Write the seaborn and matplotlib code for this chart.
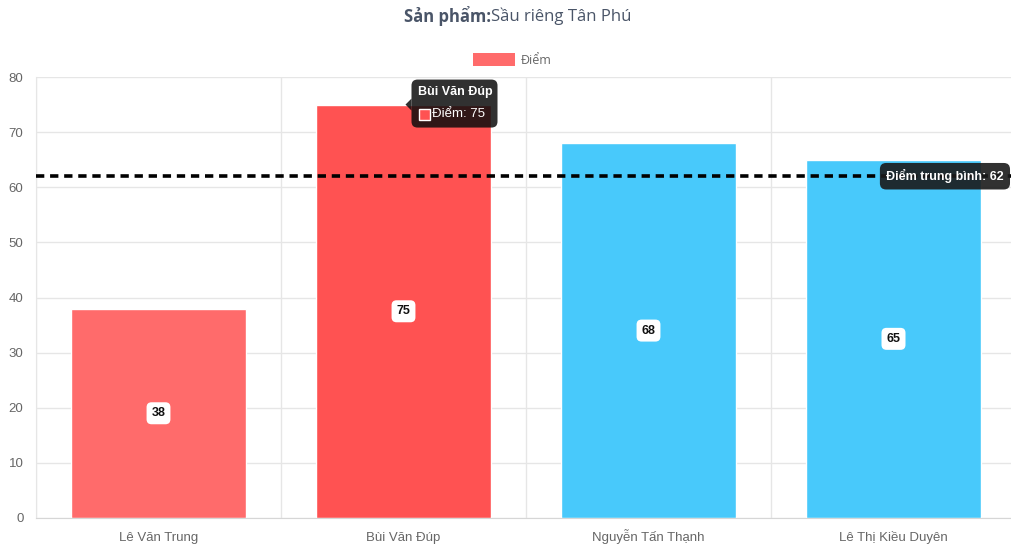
import matplotlib
matplotlib.use("Agg")
import matplotlib.pyplot as plt
from matplotlib.patches import FancyBboxPatch, Polygon, Rectangle
from matplotlib.transforms import Affine2D, offset_copy
import seaborn as sns

# --- data -------------------------------------------------------------
names = ["Lê Văn Trung", "Bùi Văn Đúp", "Nguyễn Tấn Thạnh", "Lê Thị Kiều Duyên"]
scores = [38, 75, 68, 65]
average = 62
bar_colors = ["#FF6B6B", "#FF5252", "#48C9FB", "#48C9FB"]
y_ticks = [0, 10, 20, 30, 40, 50, 60, 70, 80]
series_label = "Điểm"
title_bold = "Sản phẩm:"
title_rest = "Sầu riêng Tân Phú"
highlight = 1  # index of the bar with the tooltip

# --- styling ----------------------------------------------------------
sns.set_style("white")
plt.rcParams["font.family"] = ["Liberation Sans", "DejaVu Sans"]
TITLE_FONT = ["Open Sans", "DejaVu Sans"]

W, H = 1011, 550
fig = plt.figure(figsize=(W / 100, H / 100), dpi=100)
ax = fig.add_axes([36 / W, 32 / H, (1016 - 36) / W, (518 - 77) / H])

sns.barplot(x=names, y=scores, hue=names, palette=bar_colors, legend=False,
            width=0.715, saturation=1, ax=ax, zorder=2)

ax.set_xlim(-0.5, len(names) - 0.5)
ax.set_ylim(0, 80)
ax.set_yticks(y_ticks)
ax.set_ylabel("")
ax.set_xlabel("")

grid_c = "#E6E6E6"
ax.grid(False)
ax.yaxis.grid(True, color=grid_c, linewidth=1, zorder=0)
ax.set_xticks([i + 0.5 for i in range(-1, len(names))], minor=True)
ax.xaxis.grid(True, which="minor", color=grid_c, linewidth=1, zorder=0)
ax.set_axisbelow(True)
for s in ["top", "right"]:
    ax.spines[s].set_visible(False)
ax.spines["left"].set_color(grid_c)
ax.spines["bottom"].set_color("#D6D6D6")
ax.tick_params(axis="y", which="major", length=7, color=grid_c, labelsize=9.5,
               labelcolor="#666666", pad=2)
ax.tick_params(axis="x", which="major", length=0, labelbottom=False)
ax.tick_params(axis="x", which="minor", length=9, color=grid_c)

# category labels, aligned on a shared baseline
label_tr = offset_copy(ax.get_xaxis_transform(), fig=fig, x=0, y=-23,
                       units="dots")
for i, name in enumerate(names):
    ax.text(i, 0, name, transform=label_tr, ha="center", va="baseline",
            fontsize=9.5, color="#666666")

# value labels in the middle of each bar
for i, v in enumerate(scores):
    ax.text(i, v / 2, str(v), ha="center", va="center", fontsize=9,
            fontweight="bold", color="#111111", zorder=5,
            bbox=dict(boxstyle="round,pad=0.4,rounding_size=0.4",
                      fc="white", ec="none"))

# average line
ax.axhline(average, color="black", linewidth=2.6, linestyle=(0, (2.3, 1.6)),
           zorder=4)
ax.text(3.21, average, f"Điểm trung bình: {average}", ha="center", va="center",
        fontsize=9, fontweight="bold", color="white", zorder=6,
        bbox=dict(boxstyle="round,pad=0.5,rounding_size=0.5",
                  fc=(0.1, 0.1, 0.1, 0.9), ec="none"))

# title
t1 = fig.text(0.5, 1 - 16 / H, title_bold, ha="right", va="center",
              fontsize=12, fontweight="bold", color="#4A5568", family=TITLE_FONT)
fig.canvas.draw()
r = fig.canvas.get_renderer()
w1 = t1.get_window_extent(r).width
t2 = fig.text(0.5, 1 - 16 / H, title_rest, ha="left", va="center",
              fontsize=12, color="#4A5568", family=TITLE_FONT)
w2 = t2.get_window_extent(r).width
shift = (w1 - w2) / 2 / W + 12 / W
t1.set_x(0.5 + shift)
t2.set_x(0.5 + shift)

# legend
fig.patches.append(Rectangle((473 / W, 1 - 66 / H), 42 / W, 13 / H,
                             transform=fig.transFigure, fc=bar_colors[0],
                             ec="none"))
fig.text(521 / W, 1 - 60 / H, series_label, ha="left", va="center",
         fontsize=9, color="#666666", family=TITLE_FONT)

# tooltip on highlighted bar
px, py = ax.transData.transform((highlight, scores[highlight]))
tr = Affine2D().translate(px, py)
box = FancyBboxPatch((8, -23), 86, 48,
                     boxstyle="round,pad=0,rounding_size=6",
                     fc=(0.05, 0.05, 0.05, 0.85), ec="none",
                     transform=tr, zorder=10)
fig.patches.append(box)
fig.patches.append(Polygon([(8, -6), (8, 6), (2, 0)], closed=True,
                           fc=(0.05, 0.05, 0.05, 0.85), ec="none",
                           transform=tr, zorder=10))
fig.patches.append(Rectangle((15, -15), 11, 11, fc=bar_colors[highlight],
                             ec="white", lw=1, transform=tr, zorder=11))
fig.text(0, 0, names[highlight], transform=tr + Affine2D().translate(14, 13),
         ha="left", va="center", fontsize=9, fontweight="bold", color="white",
         zorder=12)
fig.text(0, 0, f"{series_label}: {scores[highlight]}",
         transform=tr + Affine2D().translate(28, -9),
         ha="left", va="center", fontsize=9.5, color="white", zorder=12)

fig.savefig("out.png", dpi=100)
